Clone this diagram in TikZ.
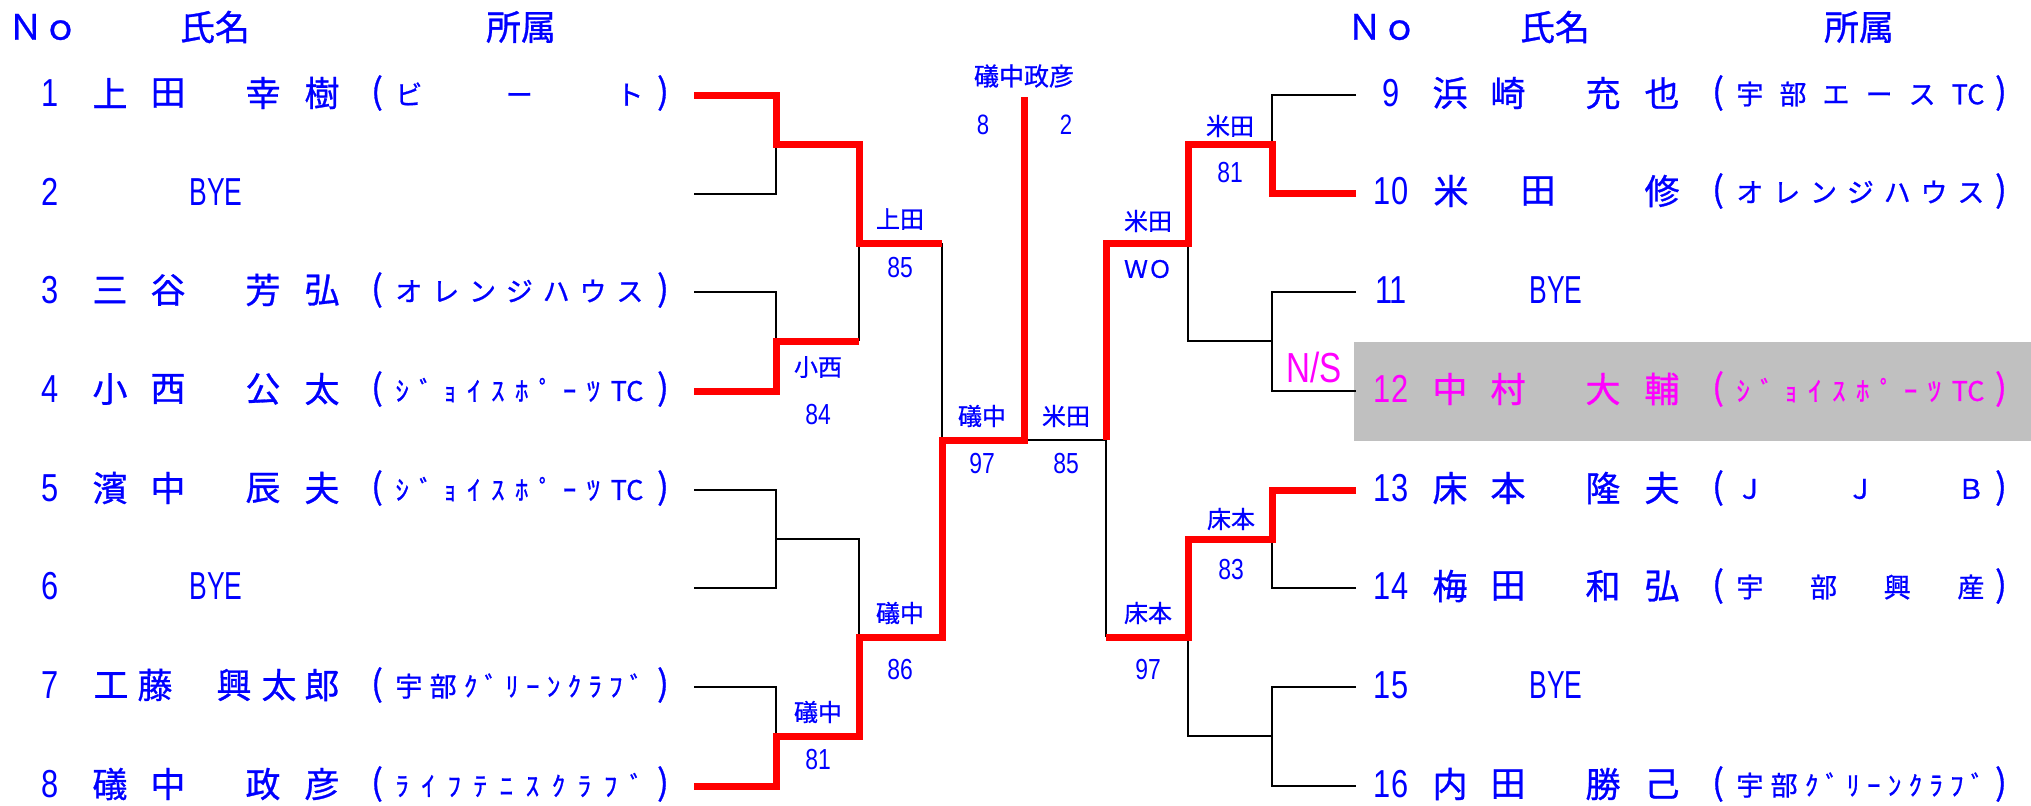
\documentclass[tikz,border=0pt]{standalone}
\usepackage{fontspec}
\newfontfamily\jpf[FakeBold=0.8]{Noto Sans CJK JP}
\newfontfamily\digf[FakeStretch=0.79]{Liberation Sans}
\newfontfamily\byef[FakeStretch=0.68]{Liberation Sans}
\definecolor{txtblue}{RGB}{0,0,255}
\definecolor{mag}{RGB}{255,0,255}
\definecolor{rowgray}{RGB}{192,192,192}
\definecolor{winred}{RGB}{255,0,0}
\tikzset{
  nmst/.style={text=txtblue,inner sep=0pt,font=\jpf\fontsize{17.5}{20}\selectfont},
  hdst/.style={text=txtblue,inner sep=0pt,font=\jpf\fontsize{17.5}{20}\selectfont},
  numst/.style={text=txtblue,inner sep=0pt,font=\digf\fontsize{19.5}{22}\selectfont},
  byest/.style={text=txtblue,inner sep=0pt,font=\byef\fontsize{19.5}{22}\selectfont},
  affst/.style={text=txtblue,inner sep=0pt,font=\jpf\fontsize{13.5}{16}\selectfont},
  parst/.style={text=txtblue,inner sep=0pt,font=\jpf\fontsize{17.5}{20}\selectfont},
  labst/.style={text=txtblue,inner sep=0pt,font=\jpf\fontsize{12}{14}\selectfont},
  labnum/.style={text=txtblue,inner sep=0pt,font=\digf\fontsize{14.5}{16}\selectfont},
  loseline/.style={draw=black,line width=1.3pt},
  winline/.style={draw=winred,line width=3.5pt,line join=miter},
}
\newcommand\affnode[4]{\node[affst,anchor=west,#1] (#2) at #3 {\makebox[124pt][s]{#4}};}
\begin{document}
\begin{tikzpicture}[x=0.5pt,y=-0.5pt]
\useasboundingbox (0,0) rectangle (2031,805);
\fill[white] (0,0) rectangle (2031,805);
\fill[rowgray] (1354,342) rectangle (2031,441);

% ---------- coordinates ----------
\foreach \i/\y in {1/95,2/194,3/292,4/391,5/490,6/588,7/687,8/786}{
  \coordinate (a\i) at (694,\y);
  \coordinate (b\i) at (776,\y);
}
\coordinate (bm12) at (776,144); \coordinate (bm34) at (776,341);
\coordinate (bm56) at (776,539); \coordinate (bm78) at (776,736);
\coordinate (c12) at (859,144); \coordinate (c34) at (859,341);
\coordinate (c56) at (859,539); \coordinate (c78) at (859,736);
\coordinate (cq1) at (859,243); \coordinate (cq2) at (859,637);
\coordinate (d1) at (942,243); \coordinate (d2) at (942,637);
\coordinate (df) at (942,440); \coordinate (cf) at (1024,440);
\coordinate (ctop) at (1024,97);
\coordinate (e) at (1106,440); \coordinate (e1) at (1106,243); \coordinate (e2) at (1106,637);
\coordinate (f1) at (1188,243); \coordinate (f2) at (1188,637);
\coordinate (fm910) at (1188,144); \coordinate (fm1112) at (1188,341);
\coordinate (fm1314) at (1188,539); \coordinate (fm1516) at (1188,736);
\foreach \i/\y in {9/95,10/193,11/292,12/391,13/490,14/588,15/687,16/786}{
  \coordinate (g\i) at (1272,\y);
  \coordinate (h\i) at (1356,\y);
}
\coordinate (gm910) at (1272,144); \coordinate (gm1112) at (1272,341);
\coordinate (gm1314) at (1272,539); \coordinate (gm1516) at (1272,736);

% ---------- losing lines ----------
\draw[loseline] (a2) -- (b2) -- (bm12);
\draw[loseline] (a3) -- (b3) -- (bm34);
\draw[loseline] (cq1) -- (c34);
\draw[loseline] (a5) -- (b5) -- (b6) -- (a6);
\draw[loseline] (bm56) -- (c56) -- (cq2);
\draw[loseline] (a7) -- (b7) -- (bm78);
\draw[loseline] (d1) -- (df);
\draw[loseline] (cf) -- (e);
\draw[loseline] (h9) -- (g9) -- (gm910);
\draw[loseline] (h11) -- (g11) -- (g12) -- (h12);
\draw[loseline] (gm1112) -- (fm1112) -- (f1);
\draw[loseline] (e) -- (e2);
\draw[loseline] (h14) -- (g14) -- (gm1314);
\draw[loseline] (h15) -- (g15) -- (g16) -- (h16);
\draw[loseline] (gm1516) -- (fm1516) -- (f2);

% ---------- winning lines ----------
\draw[winline] (a1) -- (b1) -- (bm12) -- (c12) -- (cq1) -- (d1);
\draw[winline] (a4) -- (b4) -- (bm34) -- (c34);
\draw[winline] (a8) -- (b8) -- (bm78) -- (c78) -- (cq2) -- (d2) -- (df) -- (cf) -- (ctop);
\draw[winline] (h10) -- (g10) -- (gm910) -- (fm910) -- (f1) -- (e1) -- (e);
\draw[winline] (h13) -- (g13) -- (gm1314) -- (fm1314) -- (f2) -- (e2);

% ---------- headers ----------
\node[hdst] (hNoL) at (43,27) {Ｎｏ};
\node[hdst] (hNameL) at (215,27) {氏名};
\node[hdst] (hAffL) at (521,27) {所属};
\node[hdst] (hNoR) at (1382,27) {Ｎｏ};
\node[hdst] (hNameR) at (1555,27) {氏名};
\node[hdst] (hAffR) at (1859,27) {所属};

% ---------- left players ----------
\foreach \n/\y in {1/93,2/192,3/290,4/389,5/488,6/586,7/685,8/784}
  \node[numst] (num\n) at (50,\y) {\n};
\node[byest] (bye2) at (216,192) {BYE};
\node[byest] (bye6) at (216,586) {BYE};
\foreach \c/\x in {上/110,田/168,幸/263,樹/322} \node[nmst] (p1-\x) at (\x,93) {\c};
\foreach \c/\x in {三/110,谷/168,芳/263,弘/322} \node[nmst] (p3-\x) at (\x,290) {\c};
\foreach \c/\x in {小/110,西/168,公/263,太/322} \node[nmst] (p4-\x) at (\x,389) {\c};
\foreach \c/\x in {濱/110,中/168,辰/263,夫/322} \node[nmst] (p5-\x) at (\x,488) {\c};
\foreach \c/\x in {工/111,藤/155,興/234,太/279,郎/322} \node[nmst] (p7-\x) at (\x,685) {\c};
\foreach \c/\x in {礒/110,中/168,政/263,彦/322} \node[nmst] (p8-\x) at (\x,784) {\c};
\foreach \i/\y in {1/93,3/290,4/389,5/488,7/685,8/784}{
  \node[parst] (lpo\i) at (377,\y) {(};
  \node[parst] (lpc\i) at (663,\y) {)};
}
\affnode{}{aff1}{(395,94)}{ビ\hfill ー\hfill ト}
\affnode{}{aff3}{(395,291)}{オ\hfill レ\hfill ン\hfill ジ\hfill ハ\hfill ウ\hfill ス}
\affnode{}{aff4}{(395,390)}{ｼ\hfill ﾞ\hfill ｮ\hfill ｲ\hfill ｽ\hfill ﾎ\hfill ﾟ\hfill ｰ\hfill ﾂ\hfill TC}
\affnode{}{aff5}{(395,489)}{ｼ\hfill ﾞ\hfill ｮ\hfill ｲ\hfill ｽ\hfill ﾎ\hfill ﾟ\hfill ｰ\hfill ﾂ\hfill TC}
\affnode{}{aff7}{(395,686)}{宇\hfill 部\hfill ｸ\hfill ﾞ\hfill ﾘ\hfill ｰ\hfill ﾝ\hfill ｸ\hfill ﾗ\hfill ﾌ\hfill ﾞ}
\affnode{}{aff8}{(395,785)}{ﾗ\hfill ｲ\hfill ﾌ\hfill ﾃ\hfill ﾆ\hfill ｽ\hfill ｸ\hfill ﾗ\hfill ﾌ\hfill ﾞ}

% ---------- right players ----------
\foreach \n/\y in {9/93,10/191,11/290,13/488,14/586,15/685,16/784}
  \node[numst] (num\n) at (1391,\y) {\n};
\node[numst,text=mag] (num12) at (1391,389) {12};
\node[byest] (bye11) at (1556,290) {BYE};
\node[byest] (bye15) at (1556,685) {BYE};
\foreach \c/\x in {浜/1450,崎/1508,充/1603,也/1662} \node[nmst] (p9-\x) at (\x,93) {\c};
\foreach \c/\x in {米/1451,田/1538,修/1662} \node[nmst] (p10-\x) at (\x,191) {\c};
\foreach \c/\x in {中/1450,村/1508,大/1603,輔/1662} \node[nmst,text=mag] (p12-\x) at (\x,389) {\c};
\foreach \c/\x in {床/1450,本/1508,隆/1603,夫/1662} \node[nmst] (p13-\x) at (\x,488) {\c};
\foreach \c/\x in {梅/1450,田/1508,和/1603,弘/1662} \node[nmst] (p14-\x) at (\x,586) {\c};
\foreach \c/\x in {内/1450,田/1508,勝/1603,己/1662} \node[nmst] (p16-\x) at (\x,784) {\c};
\foreach \i/\y in {9/93,10/191,13/488,14/586,16/784}{
  \node[parst] (rpo\i) at (1718,\y) {(};
  \node[parst] (rpc\i) at (2001,\y) {)};
}
\node[parst,text=mag] (rpo12) at (1718,389) {(};
\node[parst,text=mag] (rpc12) at (2001,389) {)};
\affnode{}{aff9}{(1736,94)}{宇\hfill 部\hfill エ\hfill ー\hfill ス\hfill TC}
\affnode{}{aff10}{(1736,192)}{オ\hfill レ\hfill ン\hfill ジ\hfill ハ\hfill ウ\hfill ス}
\affnode{text=mag}{aff12}{(1736,390)}{ｼ\hfill ﾞ\hfill ｮ\hfill ｲ\hfill ｽ\hfill ﾎ\hfill ﾟ\hfill ｰ\hfill ﾂ\hfill TC}
\affnode{}{aff13}{(1736,489)}{Ｊ\hfill Ｊ\hfill Ｂ}
\affnode{}{aff14}{(1736,587)}{宇\hfill 部\hfill 興\hfill 産}
\affnode{}{aff16}{(1736,785)}{宇\hfill 部\hfill ｸ\hfill ﾞ\hfill ﾘ\hfill ｰ\hfill ﾝ\hfill ｸ\hfill ﾗ\hfill ﾌ\hfill ﾞ}

% ---------- match labels ----------
\node[labst,font=\jpf\fontsize{12.5}{14}\selectfont] (champ) at (1024,76) {礒中政彦};
\node[labnum,font=\digf\fontsize{14}{16}\selectfont] (fsL) at (983,125) {8};
\node[labnum,font=\digf\fontsize{14}{16}\selectfont] (fsR) at (1066,125) {2};
\node[labst] (w12) at (900,219) {上田};   \node[labnum] (s12) at (900,268) {85};
\node[labst] (w34) at (818,367) {小西};   \node[labnum] (s34) at (818,415) {84};
\node[labst] (wsL) at (982,416) {礒中};   \node[labnum] (ssL) at (982,464) {97};
\node[labst] (wsR) at (1066,416) {米田};  \node[labnum] (ssR) at (1066,464) {85};
\node[labst] (w58) at (900,613) {礒中};   \node[labnum] (s58) at (900,670) {86};
\node[labst] (w78) at (818,712) {礒中};   \node[labnum] (s78) at (818,760) {81};
\node[labst] (w910) at (1230,126) {米田}; \node[labnum] (s910) at (1230,173) {81};
\node[labst] (w912) at (1148,221) {米田}; \node[labst] (s912) at (1148,269) {ＷＯ};
\node[labnum,text=mag,font=\digf\fontsize{21}{24}\selectfont] (ns) at (1314,367) {N/S};
\node[labst] (w1314) at (1231,519) {床本}; \node[labnum] (s1314) at (1231,570) {83};
\node[labst] (w1316) at (1148,613) {床本}; \node[labnum] (s1316) at (1148,670) {97};
\end{tikzpicture}
\end{document}
